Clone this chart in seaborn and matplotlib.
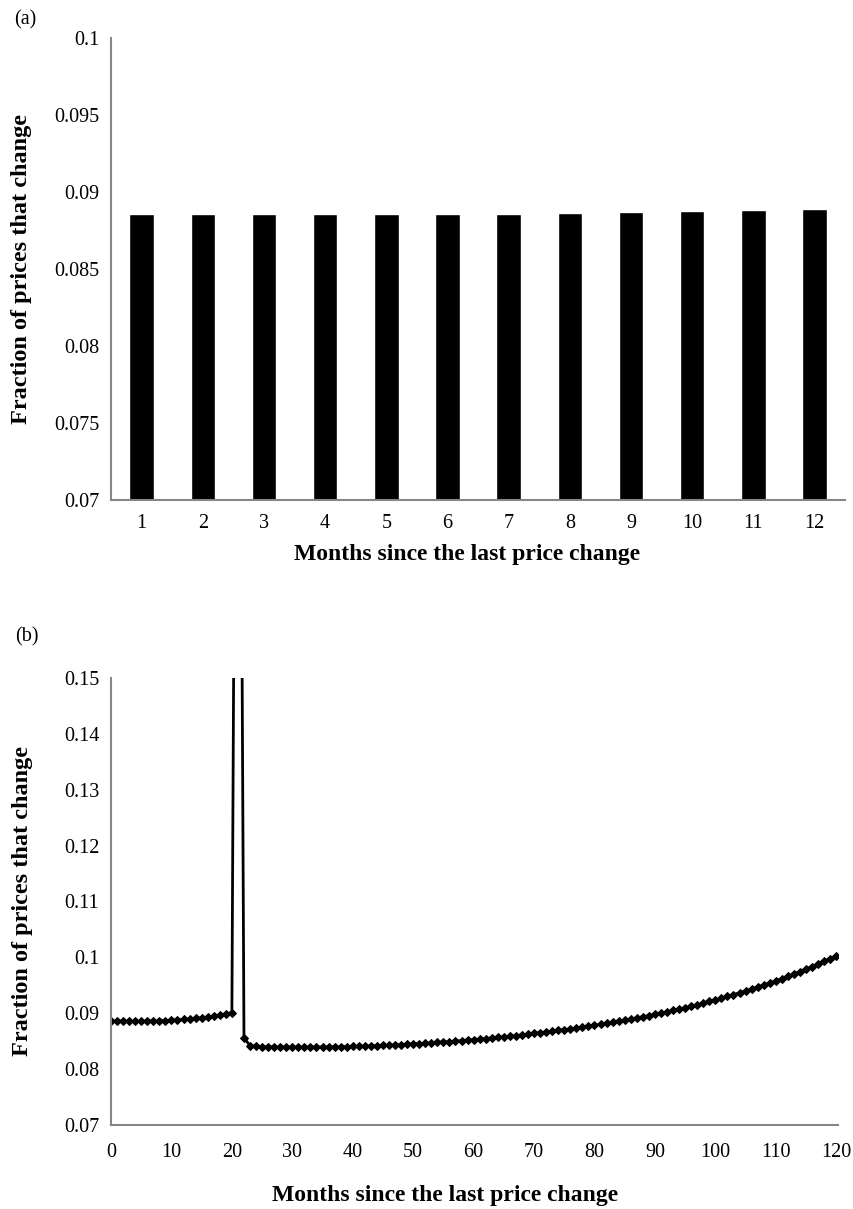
import numpy as np
import pandas as pd
import seaborn as sns
import matplotlib.pyplot as plt
from matplotlib.ticker import FuncFormatter, MultipleLocator

# panel (a): fraction of prices that change, months 1-12
bar_months = [1, 2, 3, 4, 5, 6, 7, 8, 9, 10, 11, 12]
bar_values = [0.08858, 0.08857, 0.08856, 0.08856, 0.08856, 0.08857,
              0.08860, 0.08864, 0.08869, 0.08875, 0.08881, 0.08889]

# panel (b): months 0-120 (month 21 spikes far above the axis)
line_months = list(range(0, 121))
line_values = [
    0.08860, 0.08858, 0.08857, 0.08856, 0.08856, 0.08856, 0.08857, 0.08860,
    0.08864, 0.08869, 0.08875, 0.08881, 0.08889, 0.08898, 0.08908, 0.08920,
    0.08933, 0.08948, 0.08965, 0.08985, 0.09010, 0.30000, 0.08560, 0.08420,
    0.08405, 0.08400, 0.08398, 0.08396, 0.08395, 0.08394, 0.08393, 0.08393,
    0.08393, 0.08393, 0.08394, 0.08395, 0.08396, 0.08398, 0.08400, 0.08402,
    0.08405, 0.08408, 0.08411, 0.08415, 0.08419, 0.08423, 0.08428, 0.08433,
    0.08438, 0.08444, 0.08450, 0.08456, 0.08463, 0.08470, 0.08477, 0.08485,
    0.08493, 0.08501, 0.08510, 0.08519, 0.08528, 0.08537, 0.08546, 0.08556,
    0.08566, 0.08577, 0.08588, 0.08600, 0.08613, 0.08626, 0.08640, 0.08652,
    0.08665, 0.08678, 0.08692, 0.08706, 0.08721, 0.08736, 0.08752, 0.08768,
    0.08785, 0.08802, 0.08820, 0.08838, 0.08857, 0.08876, 0.08896, 0.08916,
    0.08937, 0.08958, 0.08980, 0.09002, 0.09025, 0.09049, 0.09074, 0.09100,
    0.09126, 0.09153, 0.09181, 0.09210, 0.09240, 0.09270, 0.09301, 0.09333,
    0.09366, 0.09400, 0.09434, 0.09469, 0.09505, 0.09542, 0.09580, 0.09620,
    0.09661, 0.09703, 0.09746, 0.09790, 0.09835, 0.09881, 0.09928, 0.09976,
    0.10025,
]

ylabel = "Fraction of prices that change"
xlabel = "Months since the last price change"

sns.set_style("white")
plt.rcParams['font.family'] = ['Liberation Serif', 'DejaVu Serif']
plt.rcParams['text.color'] = 'black'
plt.rcParams['axes.labelcolor'] = 'black'

AXIS_GREY = "#868686"
fmt = FuncFormatter(lambda v, p: f"{round(v, 4):g}")


def style_axes(ax):
    for side in ["top", "right"]:
        ax.spines[side].set_visible(False)
    for side in ["left", "bottom"]:
        ax.spines[side].set_color(AXIS_GREY)
        ax.spines[side].set_linewidth(1.5)
    ax.tick_params(axis="both", colors=AXIS_GREY, labelcolor="black",
                   labelsize=14.5, width=1.3, length=5, direction="out")
    ax.yaxis.set_major_formatter(fmt)


fig = plt.figure(figsize=(8.54, 12.09), dpi=100)
ax_a = fig.add_axes([0.130, 0.5864, 0.8595, 0.3822])
ax_b = fig.add_axes([0.130, 0.0695, 0.8513, 0.3697])

# (a) bar chart
df_a = pd.DataFrame({"month": bar_months, "value": bar_values})
sns.barplot(data=df_a, x="month", y="value", color="black", width=0.4,
            saturation=1, ax=ax_a)
ax_a.set_ylim(0.07, 0.1)
ax_a.set_xlim(-0.5, 11.5)
ax_a.yaxis.set_major_locator(MultipleLocator(0.005))
style_axes(ax_a)
ax_a.tick_params(axis="x", length=0, pad=10)
ax_a.set_ylabel(ylabel, fontsize=17.5, fontweight="bold", color="black")
ax_a.set_xlabel(xlabel, fontsize=17, fontweight="bold", color="black")
ax_a.yaxis.set_label_coords(-0.107, 0.5)
ax_a.xaxis.set_label_coords(0.485, -0.095)

# (b) line chart
df_b = pd.DataFrame({"month": line_months, "value": line_values})
sns.lineplot(data=df_b, x="month", y="value", color="black", linewidth=2,
             marker="D", markersize=4.5, markeredgecolor="black", ax=ax_b)
ax_b.set_ylim(0.07, 0.15)
ax_b.set_xlim(0, 120.3)
ax_b.xaxis.set_major_locator(MultipleLocator(10))
ax_b.yaxis.set_major_locator(MultipleLocator(0.01))
style_axes(ax_b)
ax_b.tick_params(axis="x", pad=8)
ax_b.set_ylabel(ylabel, fontsize=17.5, fontweight="bold", color="black")
ax_b.set_xlabel(xlabel, fontsize=17, fontweight="bold", color="black")
ax_b.yaxis.set_label_coords(-0.108, 0.5)
ax_b.xaxis.set_label_coords(0.46, -0.135)

fig.text(25 / 854, 1 - 20 / 1209, "(a)", fontsize=14.5, ha="center", va="center")
fig.text(27 / 854, 1 - 637 / 1209, "(b)", fontsize=14.5, ha="center", va="center")

fig.savefig("out.png", dpi=100)
